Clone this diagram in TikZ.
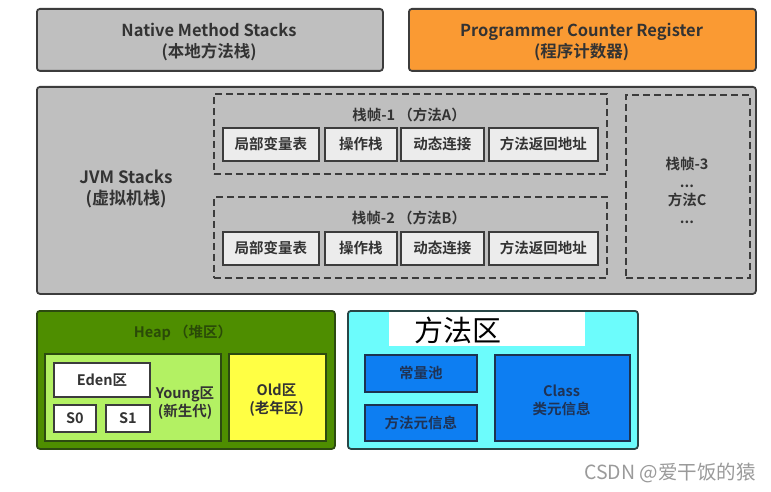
\documentclass[tikz,border=0pt]{standalone}
\usepackage{fontspec}
\setmainfont{Noto Sans CJK SC}[BoldFont={Noto Sans CJK SC Bold}]
\newfontfamily\wmfont{Noto Sans CJK SC}
\definecolor{gfill}{HTML}{BFBFBF}
\definecolor{gline}{HTML}{3C3C3C}
\definecolor{orng}{HTML}{FA9A33}
\definecolor{cellf}{HTML}{ECECEC}
\definecolor{heapg}{HTML}{4E8E00}
\definecolor{heapl}{HTML}{2C4A10}
\definecolor{youngg}{HTML}{B3F163}
\definecolor{oldy}{HTML}{FFFF44}
\definecolor{cyanf}{HTML}{6CFCFC}
\definecolor{cyanl}{HTML}{284646}
\definecolor{bluef}{HTML}{0D7EF2}
\definecolor{bluel}{HTML}{1C3250}
\definecolor{txt}{HTML}{333333}
\definecolor{heapt}{HTML}{2A4A08}
\definecolor{bluet}{HTML}{1F3355}
\definecolor{wm}{HTML}{9A9A9A}
\tikzset{
  area/.style={draw=gline, line width=1.8pt, rounded corners=3pt, inner sep=0pt, anchor=north west, font=\bfseries\fontsize{14.5}{20}\selectfont, text=txt, align=center},
  cell/.style={draw=gline, line width=1.8pt, fill=cellf, inner sep=0pt, anchor=north west, font=\bfseries\fontsize{14.5}{17}\selectfont, text=txt, align=center},
  frame/.style={draw=gline, line width=1.9pt, dash pattern=on 7pt off 4pt, inner sep=0pt, anchor=north west},
  lbl/.style={font=\bfseries\fontsize{14.5}{19}\selectfont, text=txt, align=center, inner sep=0pt},
}
\begin{document}
\begin{tikzpicture}[x=1pt,y=-1pt]
\useasboundingbox (0,0) rectangle (771,492);
\fill[white] (0,0) rectangle (771,492);
% top row
\node[area, fill=gfill, minimum width=346pt, minimum height=62pt] (nms) at (36,8) {};
\node[lbl, font=\bfseries\fontsize{16.5}{21}\selectfont] (nmst) at (209,42) {Native Method Stacks\\(本地方法栈)};
\node[area, fill=orng, minimum width=347pt, minimum height=62pt] (pcr) at (408,8) {};
\node[lbl, font=\bfseries\fontsize{16.5}{21}\selectfont] (pcrt) at (581.5,42) {Programmer Counter Register\\(程序计数器)};
% JVM stacks
\node[area, fill=gfill, minimum width=719pt, minimum height=207pt] (jvm) at (36,86) {};
\node[lbl, font=\bfseries\fontsize{17}{21}\selectfont] (jvmt) at (126,189) {JVM Stacks\\(虚拟机栈)};
% frame 1
\node[frame, minimum width=393pt, minimum height=80pt] (f1) at (213,93) {};
\node[lbl] (f1t) at (409,115) {栈帧-1 （方法A）};
\node[cell, minimum width=96pt, minimum height=33pt] (a1) at (222,127) {局部变量表};
\node[cell, minimum width=72pt, minimum height=33pt] (a2) at (324,127) {操作栈};
\node[cell, minimum width=83pt, minimum height=33pt] (a3) at (400,127) {动态连接};
\node[cell, minimum width=109pt, minimum height=33pt] (a4) at (488,127) {方法返回地址};
% frame 2
\node[frame, minimum width=393pt, minimum height=81pt] (f2) at (213,196) {};
\node[lbl] (f2t) at (409,218) {栈帧-2 （方法B）};
\node[cell, minimum width=96pt, minimum height=33pt] (b1) at (222,231) {局部变量表};
\node[cell, minimum width=72pt, minimum height=33pt] (b2) at (324,231) {操作栈};
\node[cell, minimum width=83pt, minimum height=33pt] (b3) at (400,231) {动态连接};
\node[cell, minimum width=109pt, minimum height=33pt] (b4) at (488,231) {方法返回地址};
% frame 3
\node[frame, minimum width=124pt, minimum height=183pt] (f3) at (625,94) {};
\node[lbl, font=\bfseries\fontsize{14.5}{18}\selectfont] (f3t) at (687,190) {栈帧-3\\...\\方法C\\...};
% heap
\node[area, fill=heapg, draw=heapl, minimum width=298pt, minimum height=138pt] (heap) at (36,310) {};
\node[lbl, text=heapt] (heapt) at (183,333) {Heap （堆区）};
\node[area, rounded corners=0pt, fill=youngg, draw=heapl, minimum width=176pt, minimum height=87pt] (young) at (44,353) {};
\node[cell, fill=white, draw=gline, minimum width=96pt, minimum height=34pt] (eden) at (53,362) {Eden区};
\node[cell, fill=white, draw=gline, minimum width=42pt, minimum height=27pt] (s0) at (53,404) {S0};
\node[cell, fill=white, draw=gline, minimum width=44pt, minimum height=27pt] (s1) at (105,404) {S1};
\node[lbl, font=\bfseries\fontsize{14.5}{18}\selectfont] (youngt) at (185,403) {Young区\\(新生代)};
\node[area, rounded corners=0pt, fill=oldy, draw=heapl, minimum width=97pt, minimum height=87pt] (old) at (228,353) {};
\node[lbl, font=\bfseries\fontsize{14.5}{18}\selectfont] (oldt) at (276.5,400) {Old区\\(老年区)};
% method area
\node[area, fill=cyanf, draw=cyanl, minimum width=290pt, minimum height=138pt] (meth) at (347,310) {};
\node[fill=white, inner sep=0pt, anchor=north west, minimum width=196pt, minimum height=34pt] (mlab) at (389,312) {};
\node[inner sep=0pt, font=\fontsize{29}{30}\selectfont, text=black] (mlabt) at (458,330) {方法区};
\node[cell, fill=bluef, draw=bluel, text=bluet, minimum width=112pt, minimum height=37pt] (cpool) at (364,354) {常量池};
\node[cell, fill=bluef, draw=bluel, text=bluet, minimum width=112pt, minimum height=36pt] (minfo) at (364,404) {方法元信息};
\node[cell, fill=bluef, draw=bluel, minimum width=135pt, minimum height=86pt] (cls) at (494,354) {};
\node[lbl, text=bluet, font=\bfseries\fontsize{14.5}{18}\selectfont] (clst) at (561.5,400) {Class\\类元信息};
% watermark
\node[inner sep=0pt, font=\wmfont\fontsize{19.5}{22}\selectfont, text=wm] (wmk) at (670,473) {CSDN @爱干饭的猿};
\end{tikzpicture}
\end{document}
